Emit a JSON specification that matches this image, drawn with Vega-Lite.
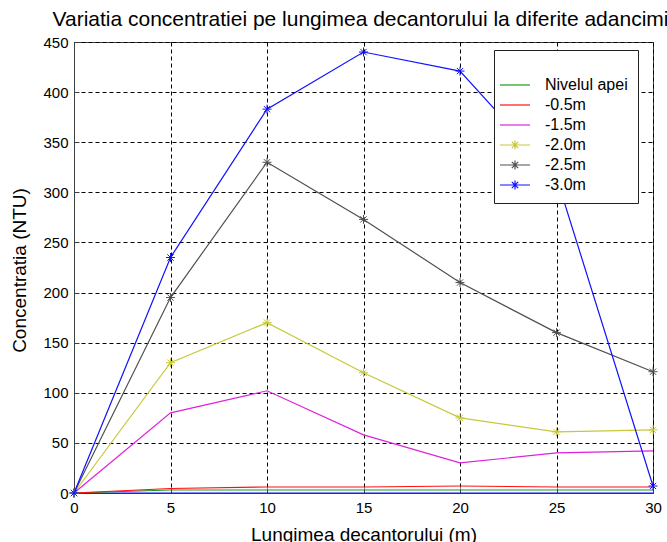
{
  "$schema": "https://vega.github.io/schema/vega-lite/v6.json",
  "width": 579,
  "height": 451,
  "autosize": {"type": "none"},
  "padding": {"left": 74, "top": 42, "right": 14, "bottom": 49},
  "background": "white",
  "title": {
    "text": "Variatia concentratiei pe lungimea decantorului la diferite adancimi",
    "font": "Liberation Sans",
    "fontSize": 21,
    "fontWeight": "normal",
    "color": "black",
    "anchor": "middle",
    "baseline": "bottom",
    "offset": 10,
    "dx": -3,
    "dy": 26
  },
  "config": {
    "font": "Liberation Sans",
    "view": {"stroke": "#404040", "strokeWidth": 1}
  },
  "datasets": {
    "series": [
      {"x": 0, "v": 0, "s": "Nivelul apei"},
      {"x": 5, "v": 3, "s": "Nivelul apei"},
      {"x": 10, "v": 3, "s": "Nivelul apei"},
      {"x": 15, "v": 3, "s": "Nivelul apei"},
      {"x": 20, "v": 3, "s": "Nivelul apei"},
      {"x": 25, "v": 3, "s": "Nivelul apei"},
      {"x": 30, "v": 3, "s": "Nivelul apei"},
      {"x": 0, "v": 0, "s": "-0.5m"},
      {"x": 5, "v": 4.5, "s": "-0.5m"},
      {"x": 10, "v": 6, "s": "-0.5m"},
      {"x": 15, "v": 6, "s": "-0.5m"},
      {"x": 20, "v": 7, "s": "-0.5m"},
      {"x": 25, "v": 6, "s": "-0.5m"},
      {"x": 30, "v": 6, "s": "-0.5m"},
      {"x": 0, "v": 0, "s": "-1.5m"},
      {"x": 5, "v": 80, "s": "-1.5m"},
      {"x": 10, "v": 102, "s": "-1.5m"},
      {"x": 15, "v": 58, "s": "-1.5m"},
      {"x": 20, "v": 30, "s": "-1.5m"},
      {"x": 25, "v": 40, "s": "-1.5m"},
      {"x": 30, "v": 42, "s": "-1.5m"},
      {"x": 0, "v": 0, "s": "-2.0m"},
      {"x": 5, "v": 130, "s": "-2.0m"},
      {"x": 10, "v": 170, "s": "-2.0m"},
      {"x": 15, "v": 120, "s": "-2.0m"},
      {"x": 20, "v": 75, "s": "-2.0m"},
      {"x": 25, "v": 61, "s": "-2.0m"},
      {"x": 30, "v": 63, "s": "-2.0m"},
      {"x": 0, "v": 0, "s": "-2.5m"},
      {"x": 5, "v": 195, "s": "-2.5m"},
      {"x": 10, "v": 330, "s": "-2.5m"},
      {"x": 15, "v": 273, "s": "-2.5m"},
      {"x": 20, "v": 210, "s": "-2.5m"},
      {"x": 25, "v": 160, "s": "-2.5m"},
      {"x": 30, "v": 121, "s": "-2.5m"},
      {"x": 0, "v": 0, "s": "-3.0m"},
      {"x": 5, "v": 235, "s": "-3.0m"},
      {"x": 10, "v": 383, "s": "-3.0m"},
      {"x": 15, "v": 440, "s": "-3.0m"},
      {"x": 20, "v": 421, "s": "-3.0m"},
      {"x": 25, "v": 315, "s": "-3.0m"},
      {"x": 30, "v": 7, "s": "-3.0m"}
    ],
    "zero": [
      {"x": 0, "v": 0},
      {"x": 5, "v": 0},
      {"x": 10, "v": 0},
      {"x": 15, "v": 0},
      {"x": 20, "v": 0},
      {"x": 25, "v": 0},
      {"x": 30, "v": 0}
    ]
  },
  "layer": [
    {
      "data": {"name": "zero"},
      "mark": {"type": "line", "color": "#1010ff", "strokeWidth": 1.2},
      "encoding": {
        "x": {
          "field": "x", "type": "quantitative",
          "scale": {"domain": [0, 30], "nice": false, "zero": false},
          "axis": {
            "values": [0, 5, 10, 15, 20, 25, 30],
            "grid": true, "gridColor": "black", "gridDash": [4, 3], "gridOpacity": 1, "gridWidth": 1,
            "domainColor": "#404040", "tickColor": "#404040", "tickSize": -5,
            "labelFontSize": 15, "labelColor": "black", "labelPadding": 12, "labelFlush": false,
            "title": "Lungimea decantorului (m)", "titleFontSize": 19, "titleFontWeight": "normal",
            "titleColor": "black", "titleBaseline": "alphabetic", "titleY": 47
          }
        },
        "y": {
          "field": "v", "type": "quantitative",
          "scale": {"domain": [0, 450], "nice": false},
          "axis": {
            "values": [0, 50, 100, 150, 200, 250, 300, 350, 400, 450],
            "grid": true, "gridColor": "black", "gridDash": [4, 3], "gridOpacity": 1, "gridWidth": 1,
            "domainColor": "#404040", "tickColor": "#404040", "tickSize": -5,
            "labelFontSize": 15, "labelColor": "black", "labelPadding": 11,
            "title": "Concentratia (NTU)", "titleFontSize": 19, "titleFontWeight": "normal",
            "titleColor": "black", "titleBaseline": "alphabetic", "titleX": -49, "titleY": 228,
            "titleAlign": "center", "titleAngle": -90
          }
        }
      }
    },
    {
      "data": {"name": "series"},
      "mark": {"type": "line", "strokeWidth": 1.2},
      "encoding": {
        "x": {"field": "x", "type": "quantitative"},
        "y": {"field": "v", "type": "quantitative"},
        "color": {
          "field": "s", "type": "nominal",
          "scale": {
            "domain": ["Nivelul apei", "-0.5m", "-1.5m", "-2.0m", "-2.5m", "-3.0m"],
            "range": ["#1a9a1a", "#ff1010", "#dd22dd", "#c8c83c", "#505050", "#1010ff"]
          },
          "legend": {
            "orient": "none", "legendX": 420, "legendY": 8,
            "title": "\u00a0", "titleFontSize": 10, "titlePadding": 4,
            "padding": 10, "strokeColor": "#202020", "fillColor": "white",
            "labelFontSize": 16, "labelColor": "black", "labelOffset": 19,
            "symbolSize": 400, "symbolStrokeWidth": 1.2, "rowPadding": 1,
            "symbolFillColor": "transparent",
            "encode": {
              "symbols": {
                "update": {
                  "shape": {"signal": "indexof(['-2.0m','-2.5m','-3.0m'], datum.value) >= 0 ? 'M-1.5,0L1.5,0M0,-0.45L0,0.45M-0.32,-0.32L0.32,0.32M-0.32,0.32L0.32,-0.32' : 'M-1.5,0L1.5,0'"}
                }
              }
            }
          }
        }
      }
    },
    {
      "data": {"name": "series"},
      "transform": [{"filter": {"field": "s", "oneOf": ["-2.0m", "-2.5m", "-3.0m"]}}],
      "mark": {
        "type": "point", "filled": false, "size": 81, "strokeWidth": 1, "opacity": 1,
        "shape": "M-1,0L1,0M0,-1L0,1M-0.7,-0.7L0.7,0.7M-0.7,0.7L0.7,-0.7"
      },
      "encoding": {
        "x": {"field": "x", "type": "quantitative"},
        "y": {"field": "v", "type": "quantitative"},
        "color": {"field": "s", "type": "nominal"}
      }
    }
  ]
}
